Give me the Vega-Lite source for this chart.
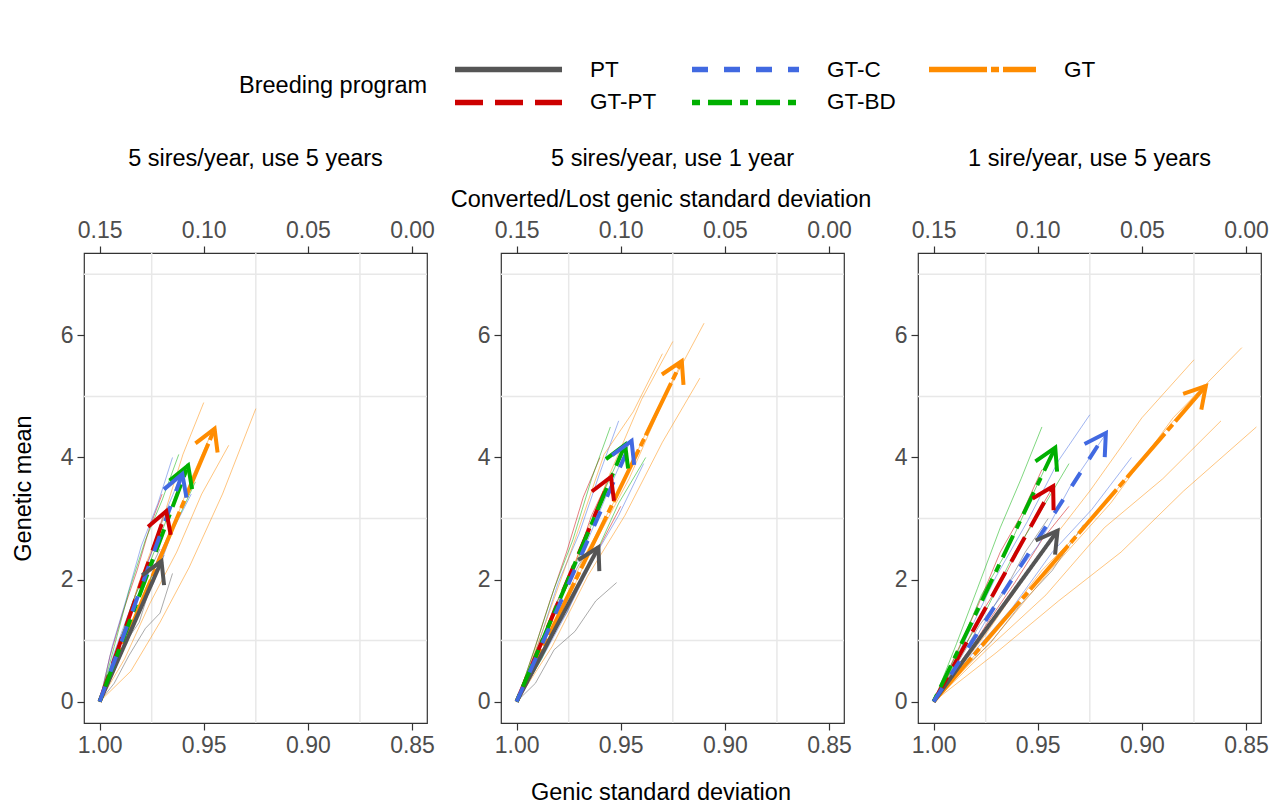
{
"$schema": "https://vega.github.io/schema/vega-lite/v6.json",
"background": "white",
"padding": {"left": 10, "top": 58, "right": 18, "bottom": 1},
"bounds": "flush",
"spacing": 74,
"config": {
  "font": "Liberation Sans",
  "view": {"stroke": "#333333", "strokeWidth": 1.2},
  "axis": {"grid": true, "gridColor": "#E8E8E8", "gridWidth": 2.7, "domain": false, "tickColor": "#333333", "tickSize": 7, "tickWidth": 1.2, "labelColor": "#4D4D4D", "labelFontSize": 23, "labelPadding": 4, "titleFontSize": 23.5, "titleFontWeight": "normal", "titleColor": "#000000"},
  "title": {"fontSize": 23.5, "fontWeight": "normal", "anchor": "middle", "color": "#000000"},
  "legend": {
    "orient": "none", "legendX": 155, "legendY": -194.8,
    "direction": "horizontal", "columns": 3, "gridAlign": "all", "columnPadding": 22, "rowPadding": 10,
    "titleOrient": "left", "titleAnchor": "middle", "titleBaseline": "middle", "titlePadding": 27,
    "titleFontSize": 23.5, "titleFontWeight": "normal", "titleColor": "#000000", "titleLimit": 400,
    "labelFontSize": 22.5, "labelColor": "#000000", "labelOffset": 112.5, "labelLimit": 300,
    "symbolType": "M-1.406,0H11.97", "symbolSize": 256, "symbolStrokeWidth": 5.5, "symbolOpacity": 1,
    "symbolFillColor": "transparent"
  }
},
"datasets": {
  "minx": [{"v": 0.975}, {"v": 0.925}, {"v": 0.875}],
  "miny": [{"v": 1}, {"v": 3}, {"v": 5}, {"v": 7}],
  "arrows": [
    {"p":"A","g":"GT","x0":1,"y0":0,"x1":0.9448,"y1":4.47},
    {"p":"A","g":"PT","x0":1,"y0":0,"x1":0.9703,"y1":2.30},
    {"p":"A","g":"GT-PT","x0":1,"y0":0,"x1":0.968,"y1":3.12},
    {"p":"A","g":"GT-BD","x0":1,"y0":0,"x1":0.9575,"y1":3.87},
    {"p":"A","g":"GT-C","x0":1,"y0":0,"x1":0.9603,"y1":3.73},
    {"p":"B","g":"GT","x0":1,"y0":0,"x1":0.9207,"y1":5.58},
    {"p":"B","g":"PT","x0":1,"y0":0,"x1":0.9607,"y1":2.53},
    {"p":"B","g":"GT-PT","x0":1,"y0":0,"x1":0.9547,"y1":3.68},
    {"p":"B","g":"GT-BD","x0":1,"y0":0,"x1":0.9479,"y1":4.21},
    {"p":"B","g":"GT-C","x0":1,"y0":0,"x1":0.9448,"y1":4.27},
    {"p":"C","g":"GT","x0":1,"y0":0,"x1":0.8693,"y1":5.17},
    {"p":"C","g":"PT","x0":1,"y0":0,"x1":0.9405,"y1":2.80},
    {"p":"C","g":"GT-PT","x0":1,"y0":0,"x1":0.9426,"y1":3.53},
    {"p":"C","g":"GT-BD","x0":1,"y0":0,"x1":0.9416,"y1":4.16},
    {"p":"C","g":"GT-C","x0":1,"y0":0,"x1":0.9173,"y1":4.40}
  ],
  "traj": [
    {"p":"A","g":"PT","r":1,"x":1,"y":0},{"p":"A","g":"PT","r":1,"x":0.994,"y":0.45},{"p":"A","g":"PT","r":1,"x":0.988,"y":0.95},{"p":"A","g":"PT","r":1,"x":0.981,"y":1.3},{"p":"A","g":"PT","r":1,"x":0.975,"y":1.95},{"p":"A","g":"PT","r":1,"x":0.969,"y":2.4},
    {"p":"A","g":"PT","r":2,"x":1,"y":0},{"p":"A","g":"PT","r":2,"x":0.993,"y":0.3},{"p":"A","g":"PT","r":2,"x":0.986,"y":0.75},{"p":"A","g":"PT","r":2,"x":0.978,"y":1.2},{"p":"A","g":"PT","r":2,"x":0.971,"y":1.45},{"p":"A","g":"PT","r":2,"x":0.965,"y":2.1},
    {"p":"A","g":"PT","r":3,"x":1,"y":0},{"p":"A","g":"PT","r":3,"x":0.995,"y":0.5},{"p":"A","g":"PT","r":3,"x":0.99,"y":1.05},{"p":"A","g":"PT","r":3,"x":0.983,"y":1.6},{"p":"A","g":"PT","r":3,"x":0.976,"y":2.15},{"p":"A","g":"PT","r":3,"x":0.971,"y":2.5},
    {"p":"A","g":"GT-PT","r":1,"x":1,"y":0},{"p":"A","g":"GT-PT","r":1,"x":0.994,"y":0.65},{"p":"A","g":"GT-PT","r":1,"x":0.987,"y":1.3},{"p":"A","g":"GT-PT","r":1,"x":0.981,"y":1.95},{"p":"A","g":"GT-PT","r":1,"x":0.975,"y":2.45},{"p":"A","g":"GT-PT","r":1,"x":0.969,"y":3.1},
    {"p":"A","g":"GT-PT","r":2,"x":1,"y":0},{"p":"A","g":"GT-PT","r":2,"x":0.993,"y":0.5},{"p":"A","g":"GT-PT","r":2,"x":0.986,"y":1.15},{"p":"A","g":"GT-PT","r":2,"x":0.979,"y":1.7},{"p":"A","g":"GT-PT","r":2,"x":0.972,"y":2.35},{"p":"A","g":"GT-PT","r":2,"x":0.966,"y":2.8},
    {"p":"A","g":"GT-PT","r":3,"x":1,"y":0},{"p":"A","g":"GT-PT","r":3,"x":0.995,"y":0.75},{"p":"A","g":"GT-PT","r":3,"x":0.989,"y":1.45},{"p":"A","g":"GT-PT","r":3,"x":0.982,"y":2.15},{"p":"A","g":"GT-PT","r":3,"x":0.976,"y":2.85},{"p":"A","g":"GT-PT","r":3,"x":0.97,"y":3.4},
    {"p":"A","g":"GT-C","r":1,"x":1,"y":0},{"p":"A","g":"GT-C","r":1,"x":0.993,"y":0.8},{"p":"A","g":"GT-C","r":1,"x":0.985,"y":1.55},{"p":"A","g":"GT-C","r":1,"x":0.977,"y":2.25},{"p":"A","g":"GT-C","r":1,"x":0.969,"y":3.05},{"p":"A","g":"GT-C","r":1,"x":0.961,"y":3.7},
    {"p":"A","g":"GT-C","r":2,"x":1,"y":0},{"p":"A","g":"GT-C","r":2,"x":0.994,"y":0.9},{"p":"A","g":"GT-C","r":2,"x":0.987,"y":1.7},{"p":"A","g":"GT-C","r":2,"x":0.98,"y":2.55},{"p":"A","g":"GT-C","r":2,"x":0.972,"y":3.25},{"p":"A","g":"GT-C","r":2,"x":0.965,"y":4.0},
    {"p":"A","g":"GT-C","r":3,"x":1,"y":0},{"p":"A","g":"GT-C","r":3,"x":0.992,"y":0.6},{"p":"A","g":"GT-C","r":3,"x":0.983,"y":1.35},{"p":"A","g":"GT-C","r":3,"x":0.974,"y":1.95},{"p":"A","g":"GT-C","r":3,"x":0.965,"y":2.8},{"p":"A","g":"GT-C","r":3,"x":0.956,"y":3.4},
    {"p":"A","g":"GT-BD","r":1,"x":1,"y":0},{"p":"A","g":"GT-BD","r":1,"x":0.992,"y":0.8},{"p":"A","g":"GT-BD","r":1,"x":0.984,"y":1.65},{"p":"A","g":"GT-BD","r":1,"x":0.975,"y":2.35},{"p":"A","g":"GT-BD","r":1,"x":0.966,"y":3.15},{"p":"A","g":"GT-BD","r":1,"x":0.958,"y":3.9},
    {"p":"A","g":"GT-BD","r":2,"x":1,"y":0},{"p":"A","g":"GT-BD","r":2,"x":0.993,"y":0.9},{"p":"A","g":"GT-BD","r":2,"x":0.986,"y":1.8},{"p":"A","g":"GT-BD","r":2,"x":0.978,"y":2.65},{"p":"A","g":"GT-BD","r":2,"x":0.97,"y":3.3},{"p":"A","g":"GT-BD","r":2,"x":0.962,"y":4.05},
    {"p":"A","g":"GT-BD","r":3,"x":1,"y":0},{"p":"A","g":"GT-BD","r":3,"x":0.991,"y":0.7},{"p":"A","g":"GT-BD","r":3,"x":0.982,"y":1.4},{"p":"A","g":"GT-BD","r":3,"x":0.973,"y":2.25},{"p":"A","g":"GT-BD","r":3,"x":0.963,"y":2.95},{"p":"A","g":"GT-BD","r":3,"x":0.954,"y":3.6},
    {"p":"A","g":"GT","r":1,"x":1,"y":0},{"p":"A","g":"GT","r":1,"x":0.989,"y":0.9},{"p":"A","g":"GT","r":1,"x":0.978,"y":1.85},{"p":"A","g":"GT","r":1,"x":0.967,"y":2.65},{"p":"A","g":"GT","r":1,"x":0.956,"y":3.65},{"p":"A","g":"GT","r":1,"x":0.945,"y":4.5},
    {"p":"A","g":"GT","r":2,"x":1,"y":0},{"p":"A","g":"GT","r":2,"x":0.99,"y":1.0},{"p":"A","g":"GT","r":2,"x":0.98,"y":2.05},{"p":"A","g":"GT","r":2,"x":0.97,"y":2.95},{"p":"A","g":"GT","r":2,"x":0.96,"y":4.05},{"p":"A","g":"GT","r":2,"x":0.95,"y":4.9},
    {"p":"A","g":"GT","r":3,"x":1,"y":0},{"p":"A","g":"GT","r":3,"x":0.988,"y":0.7},{"p":"A","g":"GT","r":3,"x":0.976,"y":1.6},{"p":"A","g":"GT","r":3,"x":0.963,"y":2.45},{"p":"A","g":"GT","r":3,"x":0.951,"y":3.4},{"p":"A","g":"GT","r":3,"x":0.938,"y":4.2},
    {"p":"A","g":"GT","r":4,"x":1,"y":0},{"p":"A","g":"GT","r":4,"x":0.985,"y":0.5},{"p":"A","g":"GT","r":4,"x":0.971,"y":1.3},{"p":"A","g":"GT","r":4,"x":0.957,"y":2.2},{"p":"A","g":"GT","r":4,"x":0.941,"y":3.4},{"p":"A","g":"GT","r":4,"x":0.925,"y":4.8},

    {"p":"B","g":"PT","r":1,"x":1,"y":0},{"p":"B","g":"PT","r":1,"x":0.992,"y":0.5},{"p":"B","g":"PT","r":1,"x":0.984,"y":1.05},{"p":"B","g":"PT","r":1,"x":0.976,"y":1.45},{"p":"B","g":"PT","r":1,"x":0.968,"y":2.05},{"p":"B","g":"PT","r":1,"x":0.96,"y":2.5},
    {"p":"B","g":"PT","r":2,"x":1,"y":0},{"p":"B","g":"PT","r":2,"x":0.991,"y":0.3},{"p":"B","g":"PT","r":2,"x":0.982,"y":0.85},{"p":"B","g":"PT","r":2,"x":0.972,"y":1.15},{"p":"B","g":"PT","r":2,"x":0.962,"y":1.65},{"p":"B","g":"PT","r":2,"x":0.952,"y":1.95},
    {"p":"B","g":"PT","r":3,"x":1,"y":0},{"p":"B","g":"PT","r":3,"x":0.993,"y":0.6},{"p":"B","g":"PT","r":3,"x":0.986,"y":1.15},{"p":"B","g":"PT","r":3,"x":0.978,"y":1.75},{"p":"B","g":"PT","r":3,"x":0.97,"y":2.25},{"p":"B","g":"PT","r":3,"x":0.963,"y":2.6},
    {"p":"B","g":"GT-PT","r":1,"x":1,"y":0},{"p":"B","g":"GT-PT","r":1,"x":0.991,"y":0.7},{"p":"B","g":"GT-PT","r":1,"x":0.982,"y":1.55},{"p":"B","g":"GT-PT","r":1,"x":0.973,"y":2.15},{"p":"B","g":"GT-PT","r":1,"x":0.964,"y":3.05},{"p":"B","g":"GT-PT","r":1,"x":0.955,"y":3.7},
    {"p":"B","g":"GT-PT","r":2,"x":1,"y":0},{"p":"B","g":"GT-PT","r":2,"x":0.99,"y":0.6},{"p":"B","g":"GT-PT","r":2,"x":0.98,"y":1.25},{"p":"B","g":"GT-PT","r":2,"x":0.97,"y":1.95},{"p":"B","g":"GT-PT","r":2,"x":0.96,"y":2.55},{"p":"B","g":"GT-PT","r":2,"x":0.95,"y":3.2},
    {"p":"B","g":"GT-PT","r":3,"x":1,"y":0},{"p":"B","g":"GT-PT","r":3,"x":0.992,"y":0.8},{"p":"B","g":"GT-PT","r":3,"x":0.984,"y":1.65},{"p":"B","g":"GT-PT","r":3,"x":0.976,"y":2.45},{"p":"B","g":"GT-PT","r":3,"x":0.968,"y":3.35},{"p":"B","g":"GT-PT","r":3,"x":0.96,"y":4.0},
    {"p":"B","g":"GT-C","r":1,"x":1,"y":0},{"p":"B","g":"GT-C","r":1,"x":0.989,"y":0.85},{"p":"B","g":"GT-C","r":1,"x":0.978,"y":1.75},{"p":"B","g":"GT-C","r":1,"x":0.967,"y":2.55},{"p":"B","g":"GT-C","r":1,"x":0.956,"y":3.45},{"p":"B","g":"GT-C","r":1,"x":0.945,"y":4.3},
    {"p":"B","g":"GT-C","r":2,"x":1,"y":0},{"p":"B","g":"GT-C","r":2,"x":0.988,"y":0.7},{"p":"B","g":"GT-C","r":2,"x":0.976,"y":1.45},{"p":"B","g":"GT-C","r":2,"x":0.963,"y":2.35},{"p":"B","g":"GT-C","r":2,"x":0.951,"y":3.05},{"p":"B","g":"GT-C","r":2,"x":0.939,"y":3.9},
    {"p":"B","g":"GT-C","r":3,"x":1,"y":0},{"p":"B","g":"GT-C","r":3,"x":0.99,"y":0.9},{"p":"B","g":"GT-C","r":3,"x":0.98,"y":1.95},{"p":"B","g":"GT-C","r":3,"x":0.97,"y":2.75},{"p":"B","g":"GT-C","r":3,"x":0.96,"y":3.75},{"p":"B","g":"GT-C","r":3,"x":0.951,"y":4.6},
    {"p":"B","g":"GT-BD","r":1,"x":1,"y":0},{"p":"B","g":"GT-BD","r":1,"x":0.99,"y":0.85},{"p":"B","g":"GT-BD","r":1,"x":0.979,"y":1.75},{"p":"B","g":"GT-BD","r":1,"x":0.969,"y":2.45},{"p":"B","g":"GT-BD","r":1,"x":0.958,"y":3.45},{"p":"B","g":"GT-BD","r":1,"x":0.948,"y":4.2},
    {"p":"B","g":"GT-BD","r":2,"x":1,"y":0},{"p":"B","g":"GT-BD","r":2,"x":0.991,"y":0.9},{"p":"B","g":"GT-BD","r":2,"x":0.982,"y":1.85},{"p":"B","g":"GT-BD","r":2,"x":0.973,"y":2.65},{"p":"B","g":"GT-BD","r":2,"x":0.964,"y":3.65},{"p":"B","g":"GT-BD","r":2,"x":0.955,"y":4.5},
    {"p":"B","g":"GT-BD","r":3,"x":1,"y":0},{"p":"B","g":"GT-BD","r":3,"x":0.988,"y":0.7},{"p":"B","g":"GT-BD","r":3,"x":0.976,"y":1.55},{"p":"B","g":"GT-BD","r":3,"x":0.963,"y":2.35},{"p":"B","g":"GT-BD","r":3,"x":0.951,"y":3.25},{"p":"B","g":"GT-BD","r":3,"x":0.938,"y":4.0},
    {"p":"B","g":"GT","r":1,"x":1,"y":0},{"p":"B","g":"GT","r":1,"x":0.984,"y":1.1},{"p":"B","g":"GT","r":1,"x":0.968,"y":2.35},{"p":"B","g":"GT","r":1,"x":0.952,"y":3.35},{"p":"B","g":"GT","r":1,"x":0.936,"y":4.55},{"p":"B","g":"GT","r":1,"x":0.92,"y":5.6},
    {"p":"B","g":"GT","r":2,"x":1,"y":0},{"p":"B","g":"GT","r":2,"x":0.985,"y":1.2},{"p":"B","g":"GT","r":2,"x":0.97,"y":2.45},{"p":"B","g":"GT","r":2,"x":0.955,"y":3.75},{"p":"B","g":"GT","r":2,"x":0.94,"y":4.95},{"p":"B","g":"GT","r":2,"x":0.925,"y":5.9},
    {"p":"B","g":"GT","r":3,"x":1,"y":0},{"p":"B","g":"GT","r":3,"x":0.983,"y":0.9},{"p":"B","g":"GT","r":3,"x":0.966,"y":2.05},{"p":"B","g":"GT","r":3,"x":0.948,"y":3.05},{"p":"B","g":"GT","r":3,"x":0.93,"y":4.25},{"p":"B","g":"GT","r":3,"x":0.912,"y":5.3},
    {"p":"B","g":"GT","r":4,"x":1,"y":0},{"p":"B","g":"GT","r":4,"x":0.986,"y":1.3},{"p":"B","g":"GT","r":4,"x":0.972,"y":2.65},{"p":"B","g":"GT","r":4,"x":0.958,"y":4.05},{"p":"B","g":"GT","r":4,"x":0.944,"y":4.75},{"p":"B","g":"GT","r":4,"x":0.93,"y":5.7},
    {"p":"B","g":"GT","r":5,"x":1,"y":0},{"p":"B","g":"GT","r":5,"x":0.982,"y":1.2},{"p":"B","g":"GT","r":5,"x":0.964,"y":2.5},{"p":"B","g":"GT","r":5,"x":0.946,"y":3.65},{"p":"B","g":"GT","r":5,"x":0.928,"y":5.05},{"p":"B","g":"GT","r":5,"x":0.91,"y":6.2},

    {"p":"C","g":"PT","r":1,"x":1,"y":0},{"p":"C","g":"PT","r":1,"x":0.988,"y":0.55},{"p":"C","g":"PT","r":1,"x":0.976,"y":1.15},{"p":"C","g":"PT","r":1,"x":0.964,"y":1.65},{"p":"C","g":"PT","r":1,"x":0.952,"y":2.25},{"p":"C","g":"PT","r":1,"x":0.94,"y":2.8},
    {"p":"C","g":"PT","r":2,"x":1,"y":0},{"p":"C","g":"PT","r":2,"x":0.987,"y":0.5},{"p":"C","g":"PT","r":2,"x":0.973,"y":0.95},{"p":"C","g":"PT","r":2,"x":0.958,"y":1.6},{"p":"C","g":"PT","r":2,"x":0.943,"y":2.15},{"p":"C","g":"PT","r":2,"x":0.928,"y":2.9},
    {"p":"C","g":"PT","r":3,"x":1,"y":0},{"p":"C","g":"PT","r":3,"x":0.989,"y":0.6},{"p":"C","g":"PT","r":3,"x":0.978,"y":1.25},{"p":"C","g":"PT","r":3,"x":0.967,"y":1.75},{"p":"C","g":"PT","r":3,"x":0.956,"y":2.45},{"p":"C","g":"PT","r":3,"x":0.945,"y":3.0},
    {"p":"C","g":"GT-PT","r":1,"x":1,"y":0},{"p":"C","g":"GT-PT","r":1,"x":0.988,"y":0.7},{"p":"C","g":"GT-PT","r":1,"x":0.977,"y":1.45},{"p":"C","g":"GT-PT","r":1,"x":0.966,"y":2.05},{"p":"C","g":"GT-PT","r":1,"x":0.954,"y":2.85},{"p":"C","g":"GT-PT","r":1,"x":0.943,"y":3.5},
    {"p":"C","g":"GT-PT","r":2,"x":1,"y":0},{"p":"C","g":"GT-PT","r":2,"x":0.989,"y":0.8},{"p":"C","g":"GT-PT","r":2,"x":0.979,"y":1.55},{"p":"C","g":"GT-PT","r":2,"x":0.968,"y":2.45},{"p":"C","g":"GT-PT","r":2,"x":0.958,"y":3.05},{"p":"C","g":"GT-PT","r":2,"x":0.948,"y":3.8},
    {"p":"C","g":"GT-PT","r":3,"x":1,"y":0},{"p":"C","g":"GT-PT","r":3,"x":0.987,"y":0.6},{"p":"C","g":"GT-PT","r":3,"x":0.974,"y":1.3},{"p":"C","g":"GT-PT","r":3,"x":0.961,"y":1.95},{"p":"C","g":"GT-PT","r":3,"x":0.948,"y":2.65},{"p":"C","g":"GT-PT","r":3,"x":0.935,"y":3.2},
    {"p":"C","g":"GT-C","r":1,"x":1,"y":0},{"p":"C","g":"GT-C","r":1,"x":0.983,"y":0.85},{"p":"C","g":"GT-C","r":1,"x":0.967,"y":1.8},{"p":"C","g":"GT-C","r":1,"x":0.95,"y":2.55},{"p":"C","g":"GT-C","r":1,"x":0.934,"y":3.55},{"p":"C","g":"GT-C","r":1,"x":0.917,"y":4.4},
    {"p":"C","g":"GT-C","r":2,"x":1,"y":0},{"p":"C","g":"GT-C","r":2,"x":0.985,"y":1.0},{"p":"C","g":"GT-C","r":2,"x":0.97,"y":2.05},{"p":"C","g":"GT-C","r":2,"x":0.955,"y":2.95},{"p":"C","g":"GT-C","r":2,"x":0.94,"y":3.95},{"p":"C","g":"GT-C","r":2,"x":0.925,"y":4.7},
    {"p":"C","g":"GT-C","r":3,"x":1,"y":0},{"p":"C","g":"GT-C","r":3,"x":0.981,"y":0.8},{"p":"C","g":"GT-C","r":3,"x":0.962,"y":1.55},{"p":"C","g":"GT-C","r":3,"x":0.943,"y":2.45},{"p":"C","g":"GT-C","r":3,"x":0.924,"y":3.15},{"p":"C","g":"GT-C","r":3,"x":0.905,"y":4.0},
    {"p":"C","g":"GT-BD","r":1,"x":1,"y":0},{"p":"C","g":"GT-BD","r":1,"x":0.988,"y":0.85},{"p":"C","g":"GT-BD","r":1,"x":0.977,"y":1.75},{"p":"C","g":"GT-BD","r":1,"x":0.965,"y":2.45},{"p":"C","g":"GT-BD","r":1,"x":0.953,"y":3.35},{"p":"C","g":"GT-BD","r":1,"x":0.942,"y":4.15},
    {"p":"C","g":"GT-BD","r":2,"x":1,"y":0},{"p":"C","g":"GT-BD","r":2,"x":0.989,"y":0.95},{"p":"C","g":"GT-BD","r":2,"x":0.979,"y":1.85},{"p":"C","g":"GT-BD","r":2,"x":0.968,"y":2.85},{"p":"C","g":"GT-BD","r":2,"x":0.958,"y":3.65},{"p":"C","g":"GT-BD","r":2,"x":0.948,"y":4.5},
    {"p":"C","g":"GT-BD","r":3,"x":1,"y":0},{"p":"C","g":"GT-BD","r":3,"x":0.987,"y":0.8},{"p":"C","g":"GT-BD","r":3,"x":0.974,"y":1.55},{"p":"C","g":"GT-BD","r":3,"x":0.961,"y":2.45},{"p":"C","g":"GT-BD","r":3,"x":0.948,"y":3.15},{"p":"C","g":"GT-BD","r":3,"x":0.935,"y":3.9},
    {"p":"C","g":"GT","r":1,"x":1,"y":0},{"p":"C","g":"GT","r":1,"x":0.974,"y":1.0},{"p":"C","g":"GT","r":1,"x":0.948,"y":2.15},{"p":"C","g":"GT","r":1,"x":0.922,"y":3.05},{"p":"C","g":"GT","r":1,"x":0.896,"y":4.15},{"p":"C","g":"GT","r":1,"x":0.87,"y":5.2},
    {"p":"C","g":"GT","r":2,"x":1,"y":0},{"p":"C","g":"GT","r":2,"x":0.973,"y":0.9},{"p":"C","g":"GT","r":2,"x":0.946,"y":1.75},{"p":"C","g":"GT","r":2,"x":0.918,"y":2.85},{"p":"C","g":"GT","r":2,"x":0.89,"y":3.65},{"p":"C","g":"GT","r":2,"x":0.862,"y":4.6},
    {"p":"C","g":"GT","r":3,"x":1,"y":0},{"p":"C","g":"GT","r":3,"x":0.975,"y":1.1},{"p":"C","g":"GT","r":3,"x":0.95,"y":2.35},{"p":"C","g":"GT","r":3,"x":0.925,"y":3.45},{"p":"C","g":"GT","r":3,"x":0.9,"y":4.65},{"p":"C","g":"GT","r":3,"x":0.875,"y":5.6},
    {"p":"C","g":"GT","r":4,"x":1,"y":0},{"p":"C","g":"GT","r":4,"x":0.97,"y":0.8},{"p":"C","g":"GT","r":4,"x":0.94,"y":1.65},{"p":"C","g":"GT","r":4,"x":0.91,"y":2.45},{"p":"C","g":"GT","r":4,"x":0.88,"y":3.45},{"p":"C","g":"GT","r":4,"x":0.845,"y":4.5},
    {"p":"C","g":"GT","r":5,"x":1,"y":0},{"p":"C","g":"GT","r":5,"x":0.972,"y":1.0},{"p":"C","g":"GT","r":5,"x":0.944,"y":2.15},{"p":"C","g":"GT","r":5,"x":0.915,"y":3.25},{"p":"C","g":"GT","r":5,"x":0.885,"y":4.65},{"p":"C","g":"GT","r":5,"x":0.852,"y":5.8}
  ]
},
"hconcat": [
  {
    "width": 343, "height": 470,
    "title": {"text": "5 sires/year, use 5 years", "offset": 49},
    "layer": [
      {"data": {"name": "minx"}, "mark": {"type": "rule", "color": "#E8E8E8", "strokeWidth": 1.5}, "encoding": {"x": {"field": "v", "type": "quantitative", "scale": {"domain": [0.8428, 1.0075], "reverse": true, "nice": false, "zero": false}, "axis": null}}},
      {"data": {"name": "miny"}, "mark": {"type": "rule", "color": "#E8E8E8", "strokeWidth": 1.5}, "encoding": {"y": {"field": "v", "type": "quantitative", "scale": {"domain": [-0.35, 7.35], "nice": false, "zero": false}, "axis": null}}},
      {"data": {"name": "traj"}, "transform": [{"filter": "datum.p === 'A'"}], "mark": {"type": "line", "strokeWidth": 1, "opacity": 0.5},
       "encoding": {
         "x": {"field": "x", "type": "quantitative", "scale": {"domain": [0.8428, 1.0075], "reverse": true, "nice": false, "zero": false}, "axis": {"orient": "bottom", "values": [1, 0.95, 0.9, 0.85], "format": ".2f", "title": null}},
         "y": {"field": "y", "type": "quantitative", "scale": {"domain": [-0.35, 7.35], "nice": false, "zero": false}, "axis": {"values": [0, 2, 4, 6], "format": "d", "title": "Genetic mean", "titlePadding": 25}},
         "color": {"field": "g", "type": "nominal", "title": "Breeding program", "scale": {"domain": ["PT", "GT-C", "GT", "GT-PT", "GT-BD"], "range": ["#555555", "#4169E1", "#FF8C00", "#CD0000", "#00B000"]}},
         "detail": {"field": "r"}
       }},
      {"data": {"name": "arrows"}, "transform": [{"filter": "datum.p === 'A'"}], "mark": {"type": "rule", "strokeWidth": 4, "strokeCap": "butt"},
       "encoding": {
         "x": {"field": "x0", "type": "quantitative", "scale": {"domain": [0.8428, 1.0075], "reverse": true, "nice": false, "zero": false}, "axis": {"orient": "top", "values": [1, 0.95, 0.9, 0.85], "labelExpr": "format(datum.value - 0.85, '.2f')", "title": null, "grid": false}},
         "y": {"field": "y0", "type": "quantitative", "scale": {"domain": [-0.35, 7.35], "nice": false, "zero": false}, "axis": null},
         "x2": {"field": "x1"}, "y2": {"field": "y1"},
         "color": {"field": "g", "type": "nominal", "title": "Breeding program", "scale": {"domain": ["PT", "GT-C", "GT", "GT-PT", "GT-BD"], "range": ["#555555", "#4169E1", "#FF8C00", "#CD0000", "#00B000"]}, "legend": {"title": "Breeding program", "encode": {"symbols": {"update": {"strokeDash": {"signal": "datum.value === 'GT-PT' ? [42,18] : datum.value === 'GT-C' ? [24,24] : datum.value === 'GT-BD' ? [12,12,36,12] : datum.value === 'GT' ? [90,6,12,6] : [200,0]"}, "fill": {"value": "transparent"}, "strokeCap": {"value": "butt"}}}}}},
         "strokeDash": {"field": "g", "type": "nominal", "scale": {"domain": ["PT", "GT-C", "GT", "GT-PT", "GT-BD"], "range": [[1, 0], [16, 16], [58, 4, 8, 4], [28, 12], [8, 8, 24, 8]]}, "legend": null}
       }},
      {"data": {"name": "arrows"}, "transform": [{"filter": "datum.p === 'A'"}, {"calculate": "atan2((1 - datum.x1) * 2082.6, datum.y1 * 61.04) * 180 / PI", "as": "ang"}],
       "mark": {"type": "point", "shape": "M-0.5,0.866L0,0L0.5,0.866", "filled": false, "size": 2304, "strokeWidth": 4, "opacity": 1, "strokeJoin": "miter"},
       "encoding": {
         "x": {"field": "x1", "type": "quantitative", "scale": {"domain": [0.8428, 1.0075], "reverse": true, "nice": false, "zero": false}, "axis": null},
         "y": {"field": "y1", "type": "quantitative", "scale": {"domain": [-0.35, 7.35], "nice": false, "zero": false}, "axis": null},
         "color": {"field": "g", "type": "nominal", "title": "Breeding program", "scale": {"domain": ["PT", "GT-C", "GT", "GT-PT", "GT-BD"], "range": ["#555555", "#4169E1", "#FF8C00", "#CD0000", "#00B000"]}},
         "angle": {"field": "ang", "type": "quantitative", "scale": null}
       }}
    ],
    "resolve": {"axis": {"x": "independent", "y": "independent"}}
  },
  {
    "width": 343, "height": 470,
    "title": {"text": "5 sires/year, use 1 year", "offset": 17},
    "layer": [
      {"data": {"name": "minx"}, "mark": {"type": "rule", "color": "#E8E8E8", "strokeWidth": 1.5}, "encoding": {"x": {"field": "v", "type": "quantitative", "scale": {"domain": [0.8428, 1.0075], "reverse": true, "nice": false, "zero": false}, "axis": null}}},
      {"data": {"name": "miny"}, "mark": {"type": "rule", "color": "#E8E8E8", "strokeWidth": 1.5}, "encoding": {"y": {"field": "v", "type": "quantitative", "scale": {"domain": [-0.35, 7.35], "nice": false, "zero": false}, "axis": null}}},
      {"data": {"name": "traj"}, "transform": [{"filter": "datum.p === 'B'"}], "mark": {"type": "line", "strokeWidth": 1, "opacity": 0.5},
       "encoding": {
         "x": {"field": "x", "type": "quantitative", "scale": {"domain": [0.8428, 1.0075], "reverse": true, "nice": false, "zero": false}, "axis": {"orient": "bottom", "values": [1, 0.95, 0.9, 0.85], "format": ".2f", "title": "Genic standard deviation", "titleX": 159.5, "titlePadding": 23}},
         "y": {"field": "y", "type": "quantitative", "scale": {"domain": [-0.35, 7.35], "nice": false, "zero": false}, "axis": {"values": [0, 2, 4, 6], "format": "d", "title": null}},
         "color": {"field": "g", "type": "nominal", "title": "Breeding program", "scale": {"domain": ["PT", "GT-C", "GT", "GT-PT", "GT-BD"], "range": ["#555555", "#4169E1", "#FF8C00", "#CD0000", "#00B000"]}},
         "detail": {"field": "r"}
       }},
      {"data": {"name": "arrows"}, "transform": [{"filter": "datum.p === 'B'"}], "mark": {"type": "rule", "strokeWidth": 4, "strokeCap": "butt"},
       "encoding": {
         "x": {"field": "x0", "type": "quantitative", "scale": {"domain": [0.8428, 1.0075], "reverse": true, "nice": false, "zero": false}, "axis": {"orient": "top", "values": [1, 0.95, 0.9, 0.85], "labelExpr": "format(datum.value - 0.85, '.2f')", "title": "Converted/Lost genic standard deviation", "titleX": 159.5, "titlePadding": 8, "grid": false}},
         "y": {"field": "y0", "type": "quantitative", "scale": {"domain": [-0.35, 7.35], "nice": false, "zero": false}, "axis": null},
         "x2": {"field": "x1"}, "y2": {"field": "y1"},
         "color": {"field": "g", "type": "nominal", "title": "Breeding program", "scale": {"domain": ["PT", "GT-C", "GT", "GT-PT", "GT-BD"], "range": ["#555555", "#4169E1", "#FF8C00", "#CD0000", "#00B000"]}},
         "strokeDash": {"field": "g", "type": "nominal", "scale": {"domain": ["PT", "GT-C", "GT", "GT-PT", "GT-BD"], "range": [[1, 0], [16, 16], [58, 4, 8, 4], [28, 12], [8, 8, 24, 8]]}, "legend": null}
       }},
      {"data": {"name": "arrows"}, "transform": [{"filter": "datum.p === 'B'"}, {"calculate": "atan2((1 - datum.x1) * 2082.6, datum.y1 * 61.04) * 180 / PI", "as": "ang"}],
       "mark": {"type": "point", "shape": "M-0.5,0.866L0,0L0.5,0.866", "filled": false, "size": 2304, "strokeWidth": 4, "opacity": 1, "strokeJoin": "miter"},
       "encoding": {
         "x": {"field": "x1", "type": "quantitative", "scale": {"domain": [0.8428, 1.0075], "reverse": true, "nice": false, "zero": false}, "axis": null},
         "y": {"field": "y1", "type": "quantitative", "scale": {"domain": [-0.35, 7.35], "nice": false, "zero": false}, "axis": null},
         "color": {"field": "g", "type": "nominal", "title": "Breeding program", "scale": {"domain": ["PT", "GT-C", "GT", "GT-PT", "GT-BD"], "range": ["#555555", "#4169E1", "#FF8C00", "#CD0000", "#00B000"]}},
         "angle": {"field": "ang", "type": "quantitative", "scale": null}
       }}
    ],
    "resolve": {"axis": {"x": "independent", "y": "independent"}}
  },
  {
    "width": 343, "height": 470,
    "title": {"text": "1 sire/year, use 5 years", "offset": 49},
    "layer": [
      {"data": {"name": "minx"}, "mark": {"type": "rule", "color": "#E8E8E8", "strokeWidth": 1.5}, "encoding": {"x": {"field": "v", "type": "quantitative", "scale": {"domain": [0.8428, 1.0075], "reverse": true, "nice": false, "zero": false}, "axis": null}}},
      {"data": {"name": "miny"}, "mark": {"type": "rule", "color": "#E8E8E8", "strokeWidth": 1.5}, "encoding": {"y": {"field": "v", "type": "quantitative", "scale": {"domain": [-0.35, 7.35], "nice": false, "zero": false}, "axis": null}}},
      {"data": {"name": "traj"}, "transform": [{"filter": "datum.p === 'C'"}], "mark": {"type": "line", "strokeWidth": 1, "opacity": 0.5},
       "encoding": {
         "x": {"field": "x", "type": "quantitative", "scale": {"domain": [0.8428, 1.0075], "reverse": true, "nice": false, "zero": false}, "axis": {"orient": "bottom", "values": [1, 0.95, 0.9, 0.85], "format": ".2f", "title": null}},
         "y": {"field": "y", "type": "quantitative", "scale": {"domain": [-0.35, 7.35], "nice": false, "zero": false}, "axis": {"values": [0, 2, 4, 6], "format": "d", "title": null}},
         "color": {"field": "g", "type": "nominal", "title": "Breeding program", "scale": {"domain": ["PT", "GT-C", "GT", "GT-PT", "GT-BD"], "range": ["#555555", "#4169E1", "#FF8C00", "#CD0000", "#00B000"]}},
         "detail": {"field": "r"}
       }},
      {"data": {"name": "arrows"}, "transform": [{"filter": "datum.p === 'C'"}], "mark": {"type": "rule", "strokeWidth": 4, "strokeCap": "butt"},
       "encoding": {
         "x": {"field": "x0", "type": "quantitative", "scale": {"domain": [0.8428, 1.0075], "reverse": true, "nice": false, "zero": false}, "axis": {"orient": "top", "values": [1, 0.95, 0.9, 0.85], "labelExpr": "format(datum.value - 0.85, '.2f')", "title": null, "grid": false}},
         "y": {"field": "y0", "type": "quantitative", "scale": {"domain": [-0.35, 7.35], "nice": false, "zero": false}, "axis": null},
         "x2": {"field": "x1"}, "y2": {"field": "y1"},
         "color": {"field": "g", "type": "nominal", "title": "Breeding program", "scale": {"domain": ["PT", "GT-C", "GT", "GT-PT", "GT-BD"], "range": ["#555555", "#4169E1", "#FF8C00", "#CD0000", "#00B000"]}},
         "strokeDash": {"field": "g", "type": "nominal", "scale": {"domain": ["PT", "GT-C", "GT", "GT-PT", "GT-BD"], "range": [[1, 0], [16, 16], [58, 4, 8, 4], [28, 12], [8, 8, 24, 8]]}, "legend": null}
       }},
      {"data": {"name": "arrows"}, "transform": [{"filter": "datum.p === 'C'"}, {"calculate": "atan2((1 - datum.x1) * 2082.6, datum.y1 * 61.04) * 180 / PI", "as": "ang"}],
       "mark": {"type": "point", "shape": "M-0.5,0.866L0,0L0.5,0.866", "filled": false, "size": 2304, "strokeWidth": 4, "opacity": 1, "strokeJoin": "miter"},
       "encoding": {
         "x": {"field": "x1", "type": "quantitative", "scale": {"domain": [0.8428, 1.0075], "reverse": true, "nice": false, "zero": false}, "axis": null},
         "y": {"field": "y1", "type": "quantitative", "scale": {"domain": [-0.35, 7.35], "nice": false, "zero": false}, "axis": null},
         "color": {"field": "g", "type": "nominal", "title": "Breeding program", "scale": {"domain": ["PT", "GT-C", "GT", "GT-PT", "GT-BD"], "range": ["#555555", "#4169E1", "#FF8C00", "#CD0000", "#00B000"]}},
         "angle": {"field": "ang", "type": "quantitative", "scale": null}
       }}
    ],
    "resolve": {"axis": {"x": "independent", "y": "independent"}}
  }
]
}
